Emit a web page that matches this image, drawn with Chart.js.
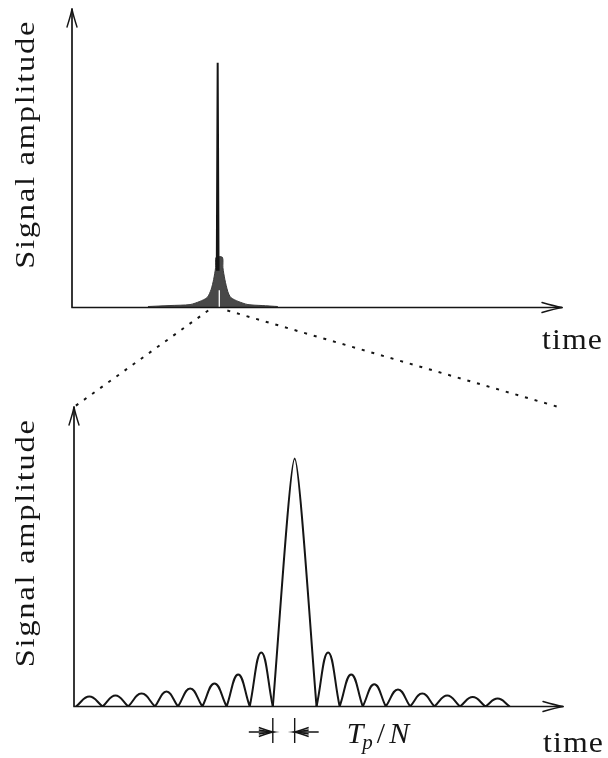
<!DOCTYPE html>
<html>
<head>
<meta charset="utf-8">
<script src="https://cdn.jsdelivr.net/npm/chart.js@4.4.1/dist/chart.umd.min.js"></script>
<style>
  html, body { margin: 0; padding: 0; background: #fff; }
  #wrap { position: relative; width: 608px; height: 758px; }
  #wrap canvas { position: absolute; left: 0; top: 0; }
</style>
</head>
<body>
<div id="wrap">
  <canvas id="overviewChart" width="608" height="758"></canvas>
  <canvas id="zoomChart" width="608" height="758"></canvas>
</div>
<script>
// Overview trace: envelope of the dense ringing around the pulse, plus the pulse itself
const topTimes    = [1.55, 2.0, 2.41, 2.61, 2.76, 2.84, 2.89, 2.93, 2.94, 3.07, 3.08, 3.12, 3.18, 3.24, 3.39, 3.59, 3.88, 4.2];
const topEnvelope = [0.004, 0.008, 0.012, 0.025, 0.041, 0.074, 0.114, 0.163, 0.205, 0.205, 0.163, 0.114, 0.065, 0.041, 0.025, 0.012, 0.008, 0.004];
const spikeTimes  = [2.955, 2.973, 2.991];
const spikeValues = [0.15, 1.0, 0.15];
const notchTimes  = [3.006, 3.006];
const notchValues = [0, 0.07];
const topRangeX = [0, 10];
const topRangeY = [0, 1.22];

// the part of the overview that is blown up below
const zoomWindow = [2.78, 3.17];

// Zoomed trace: zero crossings (in units of Tp/N) and lobe heights
const zeroTimes   = [-9.0, -7.9, -6.85, -5.75, -4.8, -3.8, -2.8, -1.85, -0.9, 0.9, 1.85, 2.8, 3.75, 4.75, 5.75, 6.8, 7.85, 8.85];
const lobeHeights = [0.04, 0.044, 0.052, 0.06, 0.073, 0.093, 0.129, 0.218, 1.0, 0.218, 0.129, 0.09, 0.069, 0.052, 0.044, 0.038, 0.032];
const mainLobe = 8;
const zoomRangeX = [-9.08, 11.04];
const zoomRangeY = [0, 1.208];
const resolutionMarks = [-0.9, 0];

const axisTitle = 'Signal amplitude';
const timeTitle = 'time';

const INK = '#151515';
const SERIF = '"Liberation Serif", "DejaVu Serif", serif';

function toPoints(xs, ys) {
    return xs.map((x, i) => ({ x: x, y: ys[i] }));
}

// lobes from..to-1: zero -> peak -> zero, shared zeros repeated so the joins stay sharp
function lobePoints(from, to) {
    const pts = [];
    for (let i = from; i < to; i++) {
        const a = zeroTimes[i], b = zeroTimes[i + 1];
        pts.push({ x: a, y: 0 }, { x: (a + b) / 2, y: lobeHeights[i] }, { x: b, y: 0 });
    }
    return pts;
}

function lobeDataset(from, to, tension) {
    return {
        data: lobePoints(from, to),
        borderColor: INK,
        borderWidth: 2,
        borderJoinStyle: 'round',
        pointRadius: 0,
        fill: false,
        tension: tension
    };
}

function arrowHead(ctx, x, y, dx, dy, len, half) {
    const px = -dy, py = dx;
    ctx.beginPath();
    ctx.moveTo(x - dx * len + px * half, y - dy * len + py * half);
    ctx.quadraticCurveTo(x - dx * len * 0.35 + px * half * 0.25, y - dy * len * 0.35 + py * half * 0.25, x, y);
    ctx.quadraticCurveTo(x - dx * len * 0.35 - px * half * 0.25, y - dy * len * 0.35 - py * half * 0.25,
        x - dx * len - px * half, y - dy * len - py * half);
    ctx.stroke();
}

// draw text stretched (along its baseline) to a given width
function fitText(ctx, text, x, y, width) {
    const w = ctx.measureText(text).width;
    ctx.save();
    ctx.translate(x, y);
    ctx.scale(width / w, 1);
    ctx.fillText(text, 0, 0);
    ctx.restore();
}

// axes with arrow tips, rotated y title and the "time" label past the arrow
function arrowAxes(timeDy) {
    return {
        id: 'arrowAxes',
        afterDatasetsDraw(chart) {
            const { ctx, chartArea: a } = chart;
            ctx.save();
            ctx.strokeStyle = INK;
            ctx.lineWidth = 1.7;
            ctx.lineCap = 'round';
            ctx.lineJoin = 'round';
            ctx.beginPath();
            ctx.moveTo(a.left, a.top);
            ctx.lineTo(a.left, a.bottom);
            ctx.lineTo(a.right, a.bottom);
            ctx.stroke();
            ctx.lineWidth = 1.4;
            arrowHead(ctx, a.left, a.top, 0, -1, 18, 5);
            arrowHead(ctx, a.right, a.bottom, 1, 0, 20, 5);

            ctx.fillStyle = INK;
            ctx.font = '28px ' + SERIF;
            ctx.letterSpacing = '1.5px';
            ctx.textBaseline = 'alphabetic';

            ctx.save();
            ctx.translate(34, (a.top + a.bottom) / 2 - 14);
            ctx.rotate(-Math.PI / 2);
            ctx.textAlign = 'center';
            fitText(ctx, axisTitle, 0, 0, 249);
            ctx.restore();

            ctx.textAlign = 'left';
            ctx.font = '29px ' + SERIF;
            ctx.letterSpacing = '1px';
            fitText(ctx, timeTitle, a.right - 20, a.bottom + timeDy, 61);
            ctx.restore();
        }
    };
}

const overviewChart = new Chart(document.getElementById('overviewChart'), {
    type: 'line',
    data: {
        datasets: [
            {
                data: toPoints(spikeTimes, spikeValues),
                borderColor: INK,
                borderWidth: 2,
                pointRadius: 0,
                tension: 0,
                order: 0
            },
            {
                data: toPoints(notchTimes, notchValues),
                borderColor: '#ffffff',
                borderWidth: 1.3,
                pointRadius: 0,
                order: 1
            },
            {
                data: toPoints(topTimes, topEnvelope),
                borderColor: '#3c3c3c',
                backgroundColor: '#484848',
                borderWidth: 1,
                fill: 'origin',
                pointRadius: 0,
                tension: 0.25,
                order: 2
            }
        ]
    },
    options: {
        responsive: false,
        animation: false,
        events: [],
        layout: { padding: { left: 72, right: 46, top: 9, bottom: 450.5 } },
        plugins: { legend: { display: false }, tooltip: { enabled: false } },
        scales: {
            x: { type: 'linear', min: topRangeX[0], max: topRangeX[1], display: false },
            y: { min: topRangeY[0], max: topRangeY[1], display: false }
        }
    },
    plugins: [arrowAxes(41.5)]
});

// dotted guide lines from the overview down to the zoomed axes, and the Tp/N marker
const zoomExtras = {
    id: 'zoomExtras',
    afterDraw(chart) {
        const { ctx, chartArea: a } = chart;
        const ox = overviewChart.scales.x, oy = overviewChart.scales.y;
        const y0 = oy.getPixelForValue(0) + 3;
        ctx.save();
        ctx.strokeStyle = INK;
        ctx.lineWidth = 2;
        ctx.setLineDash([3, 7]);
        ctx.beginPath();
        ctx.moveTo(ox.getPixelForValue(zoomWindow[0]), y0);
        ctx.lineTo(a.left, a.top);
        ctx.moveTo(ox.getPixelForValue(zoomWindow[1]), y0);
        ctx.lineTo(a.right - 1, a.top + 1);
        ctx.stroke();
        ctx.setLineDash([]);

        const xs = chart.scales.x;
        const base = a.bottom;
        const x1 = xs.getPixelForValue(resolutionMarks[0]);
        const x2 = xs.getPixelForValue(resolutionMarks[1]);
        const ay = base + 25.5;
        ctx.lineWidth = 1.4;
        ctx.beginPath();
        ctx.moveTo(x1, base + 11.5); ctx.lineTo(x1, base + 36.5);
        ctx.moveTo(x2, base + 11.5); ctx.lineTo(x2, base + 36.5);
        ctx.moveTo(x1 - 24, ay); ctx.lineTo(x1, ay);
        ctx.moveTo(x2 + 24, ay); ctx.lineTo(x2, ay);
        ctx.stroke();
        arrowHead(ctx, x1, ay, 1, 0, 14, 4.5);
        arrowHead(ctx, x1, ay, 1, 0, 14, 2);
        arrowHead(ctx, x2, ay, -1, 0, 14, 4.5);
        arrowHead(ctx, x2, ay, -1, 0, 14, 2);

        // T_p / N
        ctx.fillStyle = INK;
        ctx.textAlign = 'left';
        ctx.textBaseline = 'alphabetic';
        let tx = x2 + 52;
        const ty = base + 36.5;
        ctx.font = 'italic 30px ' + SERIF;
        ctx.fillText('T', tx, ty);
        tx += ctx.measureText('T').width - 1;
        ctx.font = 'italic 21px ' + SERIF;
        ctx.fillText('p', tx, ty + 6);
        tx += ctx.measureText('p').width + 4;
        ctx.font = '30px ' + SERIF;
        ctx.fillText('/', tx, ty);
        tx += ctx.measureText('/').width + 4;
        ctx.font = 'italic 30px ' + SERIF;
        ctx.fillText('N', tx, ty);
        ctx.restore();
    }
};

const zoomChart = new Chart(document.getElementById('zoomChart'), {
    type: 'line',
    data: {
        datasets: [
            lobeDataset(0, mainLobe, 0.45),
            lobeDataset(mainLobe, mainLobe + 1, 0.22),
            lobeDataset(mainLobe + 1, lobeHeights.length, 0.45)
        ]
    },
    options: {
        responsive: false,
        animation: false,
        events: [],
        layout: { padding: { left: 74, right: 45, top: 407, bottom: 51.5 } },
        plugins: { legend: { display: false }, tooltip: { enabled: false } },
        scales: {
            x: { type: 'linear', min: zoomRangeX[0], max: zoomRangeX[1], display: false },
            y: { min: zoomRangeY[0], max: zoomRangeY[1], display: false }
        }
    },
    plugins: [arrowAxes(45.5), zoomExtras]
});
</script>
</body>
</html>
